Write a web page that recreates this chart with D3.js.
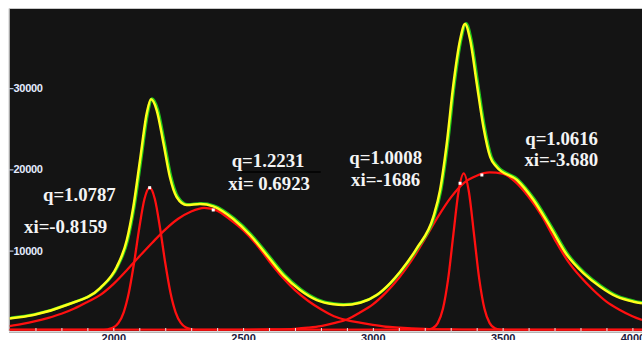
<!DOCTYPE html>
<html><head><meta charset="utf-8">
<script src="https://cdn.jsdelivr.net/npm/d3@7"></script>
<style>
html,body{margin:0;padding:0;background:#fff;}
svg{display:block;}
</style></head>
<body>
<svg id="chart" width="642" height="340"></svg>
<script>
// ---- data ----
const xTicks = [1700,1800,1900,2000,2100,2200,2300,2400,2500,2600,2700,2800,2900,3000,3100,3200,3300,3400,3500,3600,3700,3800,3900,4000];
const xTickLabels = ["","","","2000","","","","","2500","","","","","3000","","","","","3500","","","","","4000"];
const yTicks = [10000,20000,30000];
const yTickLabels = ["10000","20000","30000"];

// narrow component 1
const n1X = [1600,1940,1960,1980,2000,2020,2040,2060,2080,2100,2120,2140,2160,2180,2200,2220,2240,2260,2280,2300,2320,2340,4037];
const n1Y = [0,0,21,85,296,873,2185,4620,8275,12565,16125,17525,16125,12565,8275,4620,2185,873,296,85,21,0,0];
// broad component 1
const b1X = [1600,1650,1700,1750,1800,1850,1900,1950,2000,2050,2100,2150,2200,2250,2300,2350,2400,2450,2500,2550,2600,2650,2700,2750,2800,2850,2900,2950,3000,3050,3100,3150,3200,3300,3400,3600,4037];
const b1Y = [480,740,1080,1500,2000,2650,3450,4320,5650,7300,9050,10750,12370,13700,14600,15050,14700,13600,12300,10600,8500,6550,4900,3600,2550,1700,1220,900,620,400,290,200,140,70,30,0,0];
// narrow component 2
const n2X = [1600,3190,3210,3230,3250,3270,3290,3310,3330,3350,3370,3390,3410,3430,3450,3470,3490,3510,4037];
const n2Y = [0,0,42,214,848,2610,6265,11710,17030,19300,17030,11710,6265,2610,848,214,42,0,0];
// broad component 2
const b2X = [1600,2400,2500,2600,2700,2750,2800,2850,2900,2950,3000,3050,3100,3150,3200,3250,3300,3350,3400,3450,3500,3550,3600,3650,3700,3750,3800,3850,3900,3950,4000,4037];
const b2Y = [0,0,20,60,150,280,480,840,1300,2150,3150,4600,6400,8600,11200,13900,16300,18100,19000,19400,19250,18200,16400,14100,11200,8550,6550,4900,3500,2500,1700,1230];
// fitted sum
const sX = [1600,1692,1820,1949,2013,2052,2077,2103,2129,2145,2167,2193,2218,2244,2283,2334,2385,2462,2527,2591,2655,2719,2784,2848,2886,2951,3015,3066,3105,3169,3233,3259,3285,3310,3336,3355,3375,3400,3426,3452,3477,3555,3619,3684,3748,3812,3876,3940,4004,4037];
const sY = [1430,1850,3080,5170,7760,11080,15150,20940,26720,28410,27090,23030,18840,16380,15390,15520,15230,13670,11700,9240,6770,4930,3690,3170,3080,3360,4310,5750,7180,10060,13920,17240,23030,30170,35710,37680,35710,30420,25000,21310,20070,18470,16010,12680,9240,6980,5330,4100,3490,3290];
// marker points
const markX = [2140,2385,3336,3420];
const markY = [17525,14780,18070,19090];
// annotations (anchored in data coordinates)
const annText = ["q=1.0787","xi=-0.8159","q=1.2231","xi= 0.6923","q=1.0008","xi=-1686","q=1.0616","xi=-3.680"];
const annX = [1729,1656,2456,2443,2909,2916,3587,3584];
const annY = [15900,11900,20100,17300,20450,17770,22780,20200];
const ruleX = [2494,2799];
const ruleY = 19458;

// ---- drawing ----
const svg = d3.select("#chart");
const x = d3.scaleLinear().domain([1600,4037]).range([9.5,642]);
const y = d3.scaleLinear().domain([0,39500]).range([330,9.26]);

svg.append("rect").attr("x",9.5).attr("y",9).attr("width",632.5).attr("height",322).attr("fill","#141414");
svg.append("line").attr("x1",9).attr("x2",642).attr("y1",8.5).attr("y2",8.5).attr("stroke","#c8c8c8").attr("stroke-width",1);
svg.append("line").attr("x1",9).attr("x2",9).attr("y1",8.5).attr("y2",331).attr("stroke","#c8c8c8").attr("stroke-width",1);

const defs = svg.append("defs");
defs.append("clipPath").attr("id","clip").append("rect").attr("x",9.5).attr("y",9).attr("width",632.5).attr("height",321.5);
const plot = svg.append("g").attr("clip-path","url(#clip)");

const line = d3.line().x(d=>x(d[0])).y(d=>y(d[1])).curve(d3.curveMonotoneX);
const zip = (a,b)=>a.map((v,i)=>[v,b[i]]);

// x axis
const xAxis = d3.axisBottom(x).tickValues(xTicks).tickSize(-4).tickPadding(2.5)
  .tickFormat((d,i)=>xTickLabels[i]);
const gx = svg.append("g").attr("transform","translate(0,332)").call(xAxis);
gx.select(".domain").remove();
gx.selectAll(".tick line").attr("stroke","#e8e8e8").attr("stroke-width",1);
gx.selectAll(".tick text").attr("fill","#1b2040").attr("font-family","Liberation Sans, Arial, sans-serif")
  .attr("font-weight","bold").attr("font-size","11px");
svg.append("line").attr("x1",9).attr("x2",642).attr("y1",332.2).attr("y2",332.2).attr("stroke","#b4b4b4").attr("stroke-width",1.6);

// y axis
const yAxis = d3.axisRight(y).tickValues(yTicks).tickSize(4).tickPadding(0).tickFormat((d,i)=>yTickLabels[i]);
const gy = svg.append("g").attr("transform","translate(9.5,1.8)").call(yAxis);
gy.select(".domain").remove();
gy.selectAll(".tick line").attr("stroke","#dfe8ff").attr("stroke-width",1);
gy.selectAll(".tick text").attr("fill","#e4ecff").attr("font-family","Liberation Sans, Arial, sans-serif")
  .attr("font-weight","bold").attr("font-size","11px").attr("letter-spacing","-0.3");

// component curves (red)
[[b1X,b1Y],[b2X,b2Y],[n1X,n1Y],[n2X,n2Y]].forEach(([xs,ys])=>{
  plot.append("path").attr("d",line(zip(xs,ys))).attr("fill","none")
    .attr("stroke","#ff1010").attr("stroke-width",2.3);
});

// sum curve: green edge + yellow
plot.append("path").attr("d",line(zip(sX,sY))).attr("fill","none")
  .attr("stroke","#1fc41a").attr("stroke-width",2.8).attr("transform","translate(1.1,-0.6)");
plot.append("path").attr("d",line(zip(sX,sY))).attr("fill","none")
  .attr("stroke","#ffff1a").attr("stroke-width",2.5);

// markers
plot.selectAll("rect.mk").data(zip(markX,markY)).enter().append("rect").attr("class","mk")
  .attr("x",d=>x(d[0])-1.5).attr("y",d=>y(d[1])-1.5).attr("width",3).attr("height",3).attr("fill","#ffffff");

// annotations
svg.selectAll("text.ann").data(annText).enter().append("text").attr("class","ann")
  .attr("x",(d,i)=>x(annX[i])).attr("y",(d,i)=>y(annY[i]))
  .attr("fill","#f4f4f4").attr("font-family","Liberation Serif, 'Times New Roman', serif")
  .attr("font-weight","bold").attr("font-size","18.8px").text(d=>d);
svg.append("line").attr("x1",x(ruleX[0])).attr("x2",x(ruleX[1])).attr("y1",y(ruleY)).attr("y2",y(ruleY))
  .attr("stroke","#000").attr("stroke-width",1.6);
</script>
</body></html>
